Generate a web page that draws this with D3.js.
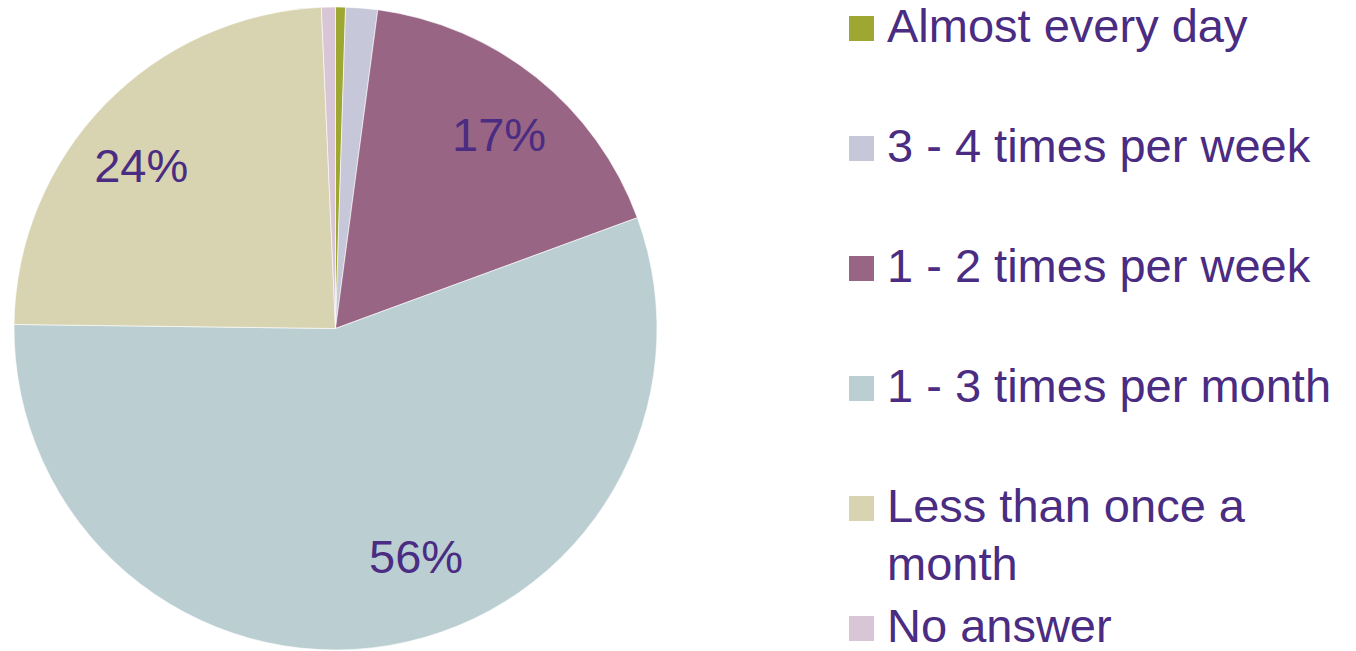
<!DOCTYPE html>
<html>
<head>
<meta charset="utf-8">
<script src="https://cdn.jsdelivr.net/npm/d3@7/dist/d3.min.js"></script>
<style>
  html, body { margin: 0; padding: 0; background: #ffffff; }
  svg { display: block; }
</style>
</head>
<body>
<svg id="chart" width="1356" height="651"></svg>
<script>
const categories = ["Almost every day", "3 - 4 times per week", "1 - 2 times per week", "1 - 3 times per month", "Less than once a month", "No answer"];
const values = [0.5, 1.6, 17.3, 55.8, 24.1, 0.7];
const labels = ["", "", "17%", "56%", "24%", ""];
const legendLines = [["Almost every day"], ["3 - 4 times per week"], ["1 - 2 times per week"], ["1 - 3 times per month"], ["Less than once a", "month"], ["No answer"]];
const colors = ["#9EA731", "#C6C7D9", "#996584", "#BBCFD3", "#D8D4B1", "#D8C5D6"];
const textColor = "#4A2C82";

// label placement tweaks (degrees offset from slice mid-angle, radius fraction)
const labelAngleNudge = [0, 0, 1.4, -9.8, -4, 0];
const labelRadiusFrac = [0.78, 0.78, 0.79, 0.75, 0.79, 0.78];

const FONT = "'Liberation Sans', Arial, Helvetica, sans-serif";
const svg = d3.select("#chart");
const cx = 335.5, cy = 328.5, R = 321.5;

const data = categories.map((c, i) => ({ cat: c, value: values[i], label: labels[i], color: colors[i], idx: i }));
const pie = d3.pie().value(d => d.value).sort(null);
const arcs = pie(data);
const arc = d3.arc().innerRadius(0).outerRadius(R);

const g = svg.append("g").attr("transform", `translate(${cx},${cy})`);
g.selectAll("path.slice").data(arcs).enter().append("path")
  .attr("class", "slice")
  .attr("d", arc)
  .attr("fill", d => d.data.color)
  .attr("stroke", "#ffffff")
  .attr("stroke-width", 0.6);

g.selectAll("text.lbl").data(arcs.filter(d => d.data.label)).enter().append("text")
  .attr("class", "lbl")
  .attr("transform", d => {
    const a = (d.startAngle + d.endAngle) / 2 + labelAngleNudge[d.data.idx] * Math.PI / 180;
    const [x, y] = d3.pointRadial(a, R * labelRadiusFrac[d.data.idx]);
    return `translate(${x},${y})`;
  })
  .attr("text-anchor", "middle")
  .attr("dy", "0.36em")
  .attr("font-family", FONT)
  .attr("font-size", 47)
  .attr("fill", textColor)
  .text(d => d.data.label);

// Legend
const legX = 849, firstBase = 42, legStep = 120, sw = 25, lineH = 58, fs = 47;
const leg = svg.append("g");
const items = leg.selectAll("g.item").data(data).enter().append("g")
  .attr("class", "item")
  .attr("transform", (d, i) => `translate(${legX},${firstBase + i * legStep})`);
items.append("rect").attr("y", -26).attr("width", sw).attr("height", sw).attr("fill", d => d.color);
items.each(function(d, i) {
  const t = d3.select(this).append("text")
    .attr("x", 38).attr("y", 0)
    .attr("font-family", FONT)
    .attr("font-size", fs).attr("fill", textColor);
  legendLines[i].forEach((ln, j) => {
    t.append("tspan").attr("x", 38).attr("y", j * lineH).text(ln);
  });
});
</script>
</body>
</html>
